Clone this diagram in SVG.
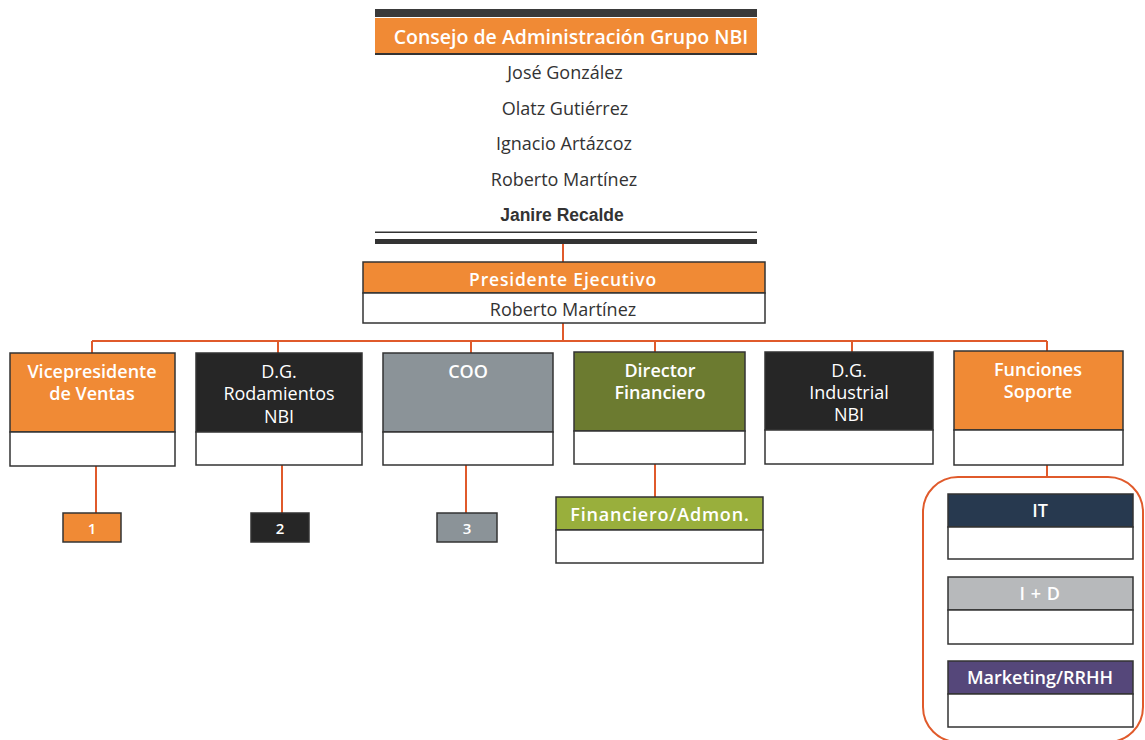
<svg xmlns="http://www.w3.org/2000/svg" width="1145" height="740" viewBox="0 0 1145 740">
<style>
.bg{fill:#ffffff}
.hd{stroke:#333333;stroke-width:1.5}
.wb{fill:#ffffff;stroke:#333333;stroke-width:1.5}
.or{fill:#F08A35}
.dk{fill:#262626}
.gy{fill:#8B9398}
.gr{fill:#6C7B30}
.lg{fill:#99AF3C}
.nv{fill:#27394F}
.lgy{fill:#B7B9BB}
.pu{fill:#55477A}
.lt{font-family:"Open Sans","DejaVu Sans",sans-serif;font-weight:600;font-size:18px;fill:#ffffff;text-anchor:middle}
.rg{font-weight:normal}
.nm{font-family:"Open Sans","DejaVu Sans",sans-serif;font-size:18px;fill:#333333;text-anchor:middle}
.bd{font-family:"Liberation Sans",Arial,sans-serif;font-weight:bold;font-size:17.5px}
.conn{stroke:#E05A2B;stroke-width:2;fill:none}
</style>
<rect class="bg" x="0" y="0" width="1145" height="740"/>

<g id="connectors">
<line class="conn" x1="563" y1="244" x2="563" y2="262"/>
<line class="conn" x1="563" y1="323" x2="563" y2="341"/>
<line class="conn" x1="92" y1="341" x2="1047" y2="341"/>
<line class="conn" x1="92" y1="341" x2="92" y2="353"/>
<line class="conn" x1="278" y1="341" x2="278" y2="353"/>
<line class="conn" x1="471" y1="341" x2="471" y2="353"/>
<line class="conn" x1="655" y1="341" x2="655" y2="352"/>
<line class="conn" x1="852" y1="341" x2="852" y2="352"/>
<line class="conn" x1="1047" y1="341" x2="1047" y2="351"/>
<line class="conn" x1="96" y1="466" x2="96" y2="513"/>
<line class="conn" x1="282" y1="465" x2="282" y2="513"/>
<line class="conn" x1="466" y1="465" x2="466" y2="513"/>
<line class="conn" x1="655" y1="464" x2="655" y2="497"/>
<line class="conn" x1="1047" y1="465" x2="1047" y2="477"/>
<rect class="conn" x="923" y="477" width="220" height="265" rx="35"/>
</g>

<g id="consejo">
<rect x="375" y="9" width="382" height="8" fill="#3A3A3A"/>
<rect class="or" x="375" y="18" width="382" height="35"/>
<rect x="375" y="53" width="382" height="2" fill="#333333"/>
<text class="lt" x="571" y="44" style="font-size:19.5px">Consejo de Administración Grupo NBI</text>
<text class="nm" x="565" y="78.5">José González</text>
<text class="nm" x="565" y="114.5">Olatz Gutiérrez</text>
<text class="nm" x="564" y="149.5">Ignacio Artázcoz</text>
<text class="nm" x="564" y="185.5">Roberto Martínez</text>
<text class="nm bd" x="562" y="221">Janire Recalde</text>
<rect x="375" y="231.5" width="382" height="1.5" fill="#333333"/>
<rect x="375" y="239" width="382" height="5" fill="#333333"/>
</g>

<g id="presidente">
<rect class="or hd" x="363" y="262" width="402" height="31"/>
<rect class="wb" x="363" y="293" width="402" height="30"/>
<text class="lt" x="563" y="285.5" style="font-size:17.5px" letter-spacing="0.8">Presidente Ejecutivo</text>
<text class="nm" x="563" y="315.5">Roberto Martínez</text>
</g>

<g id="vp-ventas">
<rect class="or hd" x="10" y="353" width="165" height="79"/>
<rect class="wb" x="10" y="432" width="165" height="34"/>
<text class="lt" x="92" y="377.5">Vicepresidente</text>
<text class="lt" x="92" y="400">de Ventas</text>
</g>

<g id="dg-rodamientos">
<rect class="dk hd" x="196" y="353" width="166" height="79"/>
<rect class="wb" x="196" y="432" width="166" height="33"/>
<text class="lt rg" x="279" y="377.5">D.G.</text>
<text class="lt rg" x="279" y="400">Rodamientos</text>
<text class="lt rg" x="279" y="422.5">NBI</text>
</g>

<g id="coo">
<rect class="gy hd" x="383" y="353" width="170" height="79"/>
<rect class="wb" x="383" y="432" width="170" height="33"/>
<text class="lt" x="468" y="377.5">COO</text>
</g>

<g id="director-financiero">
<rect class="gr hd" x="574" y="352" width="171" height="79"/>
<rect class="wb" x="574" y="431" width="171" height="33"/>
<text class="lt" x="660" y="376.5">Director</text>
<text class="lt" x="660" y="398.5">Financiero</text>
</g>

<g id="dg-industrial">
<rect class="dk hd" x="765" y="352" width="168" height="78"/>
<rect class="wb" x="765" y="430" width="168" height="34"/>
<text class="lt rg" x="849" y="376.5">D.G.</text>
<text class="lt rg" x="849" y="398.5">Industrial</text>
<text class="lt rg" x="849" y="420.5">NBI</text>
</g>

<g id="funciones-soporte">
<rect class="or hd" x="954" y="351" width="169" height="79"/>
<rect class="wb" x="954" y="430" width="169" height="35"/>
<text class="lt" x="1038" y="375.5">Funciones</text>
<text class="lt" x="1038" y="397.5">Soporte</text>
</g>

<g id="n1">
<rect class="or hd" x="63" y="513" width="58" height="29"/>
<text class="lt" x="92" y="533.5" style="font-size:15px">1</text>
</g>
<g id="n2">
<rect class="dk hd" x="251" y="513" width="58" height="29"/>
<text class="lt" x="280" y="533.5" style="font-size:15px">2</text>
</g>
<g id="n3">
<rect class="gy hd" x="437" y="513" width="60" height="29"/>
<text class="lt" x="467" y="533.5" style="font-size:15px">3</text>
</g>

<g id="financiero-admon">
<rect class="lg hd" x="556" y="497" width="207" height="33"/>
<rect class="wb" x="556" y="530" width="207" height="33"/>
<text class="lt" x="660" y="520.5" letter-spacing="0.8">Financiero/Admon.</text>
</g>

<g id="it">
<rect class="nv hd" x="948" y="494" width="185" height="33"/>
<rect class="wb" x="948" y="527" width="185" height="32"/>
<text class="lt" x="1040" y="517">IT</text>
</g>

<g id="id">
<rect class="lgy hd" x="948" y="577" width="185" height="33"/>
<rect class="wb" x="948" y="610" width="185" height="34"/>
<text class="lt" x="1040" y="600" letter-spacing="0.5">I + D</text>
</g>

<g id="marketing">
<rect class="pu hd" x="948" y="661" width="185" height="33"/>
<rect class="wb" x="948" y="694" width="185" height="33"/>
<text class="lt" x="1040" y="684">Marketing/RRHH</text>
</g>
</svg>
